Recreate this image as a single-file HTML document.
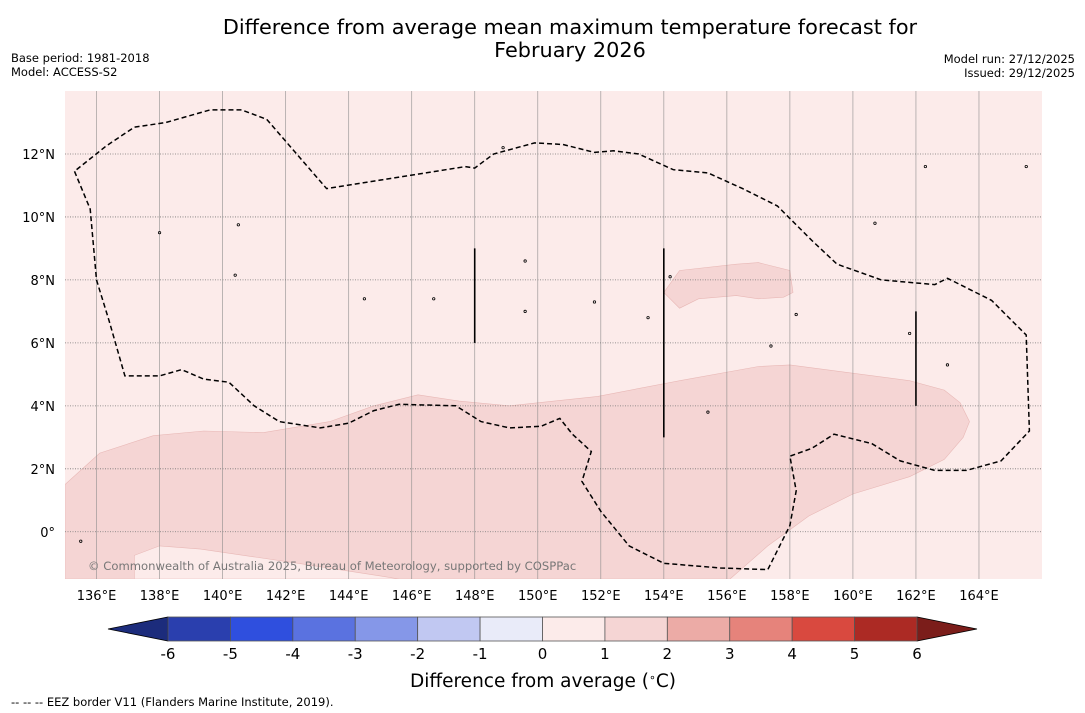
<!DOCTYPE html>
<html><head><meta charset="utf-8"><style>
body{margin:0;background:#fff;font-family:"DejaVu Sans","Liberation Sans",sans-serif}
svg{display:block}
</style></head><body>
<svg id="c" width="1085" height="713" xmlns="http://www.w3.org/2000/svg">
<text x="570" y="34" text-anchor="middle" font-size="20.8">Difference from average mean maximum temperature forecast for</text>
<text x="570" y="57" text-anchor="middle" font-size="20.8">February 2026</text>
<text x="11" y="62" font-size="11.5">Base period: 1981-2018</text>
<text x="11" y="76" font-size="11.5">Model: ACCESS-S2</text>
<text x="1075" y="63" text-anchor="end" font-size="11.5">Model run: 27/12/2025</text>
<text x="1075" y="77" text-anchor="end" font-size="11.5">Issued: 29/12/2025</text>
<g id="map"></g>
<g id="cbar"></g>
<text x="543" y="687" text-anchor="middle" font-size="18.5">Difference from average (<tspan baseline-shift="super" font-size="11">∘</tspan>C)</text>
<text x="11" y="706" font-size="11.5">--  --  -- EEZ border V11 (Flanders Marine Institute, 2019).</text>
</svg>
<script>
const lonTicks=[136,138,140,142,144,146,148,150,152,154,156,158,160,162,164];
const latTicks=[0,2,4,6,8,10,12];
const cbLevels=[-6,-5,-4,-3,-2,-1,0,1,2,3,4,5,6];
const cbColors=["#2a3fae","#2f4fde","#5a72e0","#8597e8","#c1c8f2","#e9ebf9","#fcebea","#f5d5d4","#ecaba6","#e6837b","#d9493f","#ac2a24"];
const southAnom=[[135,1.5],[136.1,2.5],[137.8,3.05],[139.4,3.2],[141.3,3.15],[143.4,3.5],[144.8,4.0],[146.2,4.35],[147.5,4.15],[149.1,4.0],[151.9,4.3],[154.5,4.8],[157,5.25],[158,5.3],[159.9,5.05],[161.8,4.8],[162.9,4.5],[163.4,4.1],[163.7,3.5],[163.5,3.0],[162.9,2.3],[161.8,1.75],[160,1.2],[158.6,0.5],[157.3,-0.45],[156.1,-1.5],[135,-1.5]];
const southLight=[[137.2,-1.5],[137.2,-0.75],[138,-0.45],[139.3,-0.55],[142.4,-1.0],[145,-1.4],[145.6,-1.5]];
const northAnom=[[154.5,8.3],[156.3,8.5],[157,8.55],[158,8.3],[158.1,7.6],[157.8,7.45],[157,7.4],[156.3,7.5],[155.1,7.4],[154.5,7.1],[154,7.6]];
const eez=[[135.3,11.45],[135.8,10.25],[136,8],[136.4,6.7],[136.9,4.95],[138,4.95],[138.7,5.15],[139.4,4.85],[140.2,4.75],[141,4.0],[141.8,3.5],[143.1,3.3],[144,3.45],[144.8,3.85],[145.6,4.05],[147.4,4.0],[148.2,3.5],[149.1,3.3],[150.1,3.35],[150.7,3.6],[151.1,3.1],[151.7,2.55],[151.4,1.6],[152,0.65],[152.9,-0.45],[154,-1.0],[155.8,-1.15],[157.3,-1.2],[158,0.2],[158.2,1.3],[158,2.4],[158.7,2.65],[159.4,3.1],[160.6,2.8],[161.5,2.25],[162.6,1.95],[163.6,1.95],[164.7,2.25],[165.6,3.2],[165.5,6.25],[164.4,7.35],[163,8.05],[162.6,7.85],[160.9,8.0],[159.5,8.5],[158.7,9.25],[157.6,10.35],[156.5,10.9],[155.4,11.4],[154.3,11.5],[153.2,12.0],[152.4,12.1],[151.8,12.05],[150.8,12.3],[149.9,12.35],[148.6,12.0],[148,11.55],[147.7,11.6],[143.3,10.9],[141.4,13.1],[140.6,13.4],[139.6,13.4],[138.2,13.0],[137.2,12.85],[136.3,12.25],[135.3,11.45]];
const eezLines=[[148,6,9],[154,3,9],[162,4,7]];
const islands=[[140.4,8.15],[144.5,7.4],[146.7,7.4],[149.6,7.0],[151.8,7.3],[153.5,6.8],[158.2,6.9],[163,5.3],[161.8,6.3],[148.9,12.2],[160.7,9.8],[162.3,11.6],[165.5,11.6],[138,9.5],[140.5,9.75],[149.6,8.6],[154.2,8.1],[157.4,5.9],[155.4,3.8],[135.5,-0.3]];

const NS="http://www.w3.org/2000/svg";
const X0=65,X1=1042,Y0=91,Y1=579,LON0=135,LON1=166,LAT0=-1.5,LAT1=14;
const xs=l=>X0+(l-LON0)/(LON1-LON0)*(X1-X0);
const ys=l=>Y1-(l-LAT0)/(LAT1-LAT0)*(Y1-Y0);
function mk(t,a,p){const e=document.createElementNS(NS,t);for(const k in a)e.setAttribute(k,a[k]);p.appendChild(e);return e;}
const map=document.getElementById('map');
const defs=mk('defs',{},map);
const cp=mk('clipPath',{id:'clip'},defs);mk('rect',{x:X0,y:Y0,width:X1-X0,height:Y1-Y0},cp);
const bg=mk('rect',{x:X0,y:Y0,width:X1-X0,height:Y1-Y0,fill:cbColors[6]},map);


const g=mk('g',{'clip-path':'url(#clip)'},map);
const pts=a=>a.map(p=>xs(p[0]).toFixed(1)+','+ys(p[1]).toFixed(1)).join(' ');
let e=mk('polygon',{points:pts(southAnom),fill:cbColors[7],stroke:'#e8b8b6','stroke-width':0.6},g);


e=mk('polygon',{points:pts(southLight),fill:cbColors[6],stroke:'#e8b8b6','stroke-width':0.6},g);


e=mk('polygon',{points:pts(northAnom),fill:cbColors[7],stroke:'#e8b8b6','stroke-width':0.6},g);


lonTicks.forEach(l=>{const x=xs(l);
 const ln=mk('line',{x1:x,x2:x,y1:Y0,y2:Y1,stroke:'#888','stroke-width':0.8,'stroke-opacity':0.7},g);
 
 
 const t=mk('text',{x:x,y:600,'text-anchor':'middle','font-size':13},map);t.textContent=l+'°E';
 
 });
latTicks.forEach(l=>{const y=ys(l);
 const ln=mk('line',{x1:X0,x2:X1,y1:y,y2:y,stroke:'#777','stroke-width':0.8,'stroke-dasharray':'1,1.5'},g);
 
 
 const t=mk('text',{x:55,y:y+5,'text-anchor':'end','font-size':13},map);t.textContent=(l===0?'0°':l+'°N');
 
 });
e=mk('polyline',{points:pts(eez),fill:'none',stroke:'#000','stroke-width':1.5,'stroke-dasharray':'5,3'},g);


eezLines.forEach(v=>{const l=mk('line',{x1:xs(v[0]),x2:xs(v[0]),y1:ys(v[1]),y2:ys(v[2]),stroke:'#000','stroke-width':1.6},g);
 
 });
islands.forEach(p=>{const c=mk('circle',{cx:xs(p[0]),cy:ys(p[1]),r:1.2,fill:'none',stroke:'#000','stroke-width':0.8},g);
 
 });
e=mk('text',{x:88,y:570,'font-size':11.6,fill:'#777'},g);e.textContent='© Commonwealth of Australia 2025, Bureau of Meteorology, supported by COSPPac';


const cb=document.getElementById('cbar');
const CX0=168,CX1=917,CY0=617,CY1=641;
const cx=v=>CX0+(v-cbLevels[0])/(cbLevels[cbLevels.length-1]-cbLevels[0])*(CX1-CX0);
e=mk('polygon',{points:`${CX0},${CY0} ${CX0},${CY1} 108,629`,fill:'#1c2c7c',stroke:'#000','stroke-width':0.8},cb);


e=mk('polygon',{points:`${CX1},${CY0} ${CX1},${CY1} 977,629`,fill:'#7b1d1a',stroke:'#000','stroke-width':0.8},cb);


cbColors.forEach((c,i)=>{const r=mk('rect',{x:cx(cbLevels[i]),y:CY0,width:cx(cbLevels[i+1])-cx(cbLevels[i]),height:CY1-CY0,fill:c,stroke:'#555','stroke-width':0.8},cb);
 
 });
cbLevels.forEach(v=>{const t=mk('text',{x:cx(v),y:659,'text-anchor':'middle','font-size':15},cb);t.textContent=v;
 
 });
</script>
</body></html>
